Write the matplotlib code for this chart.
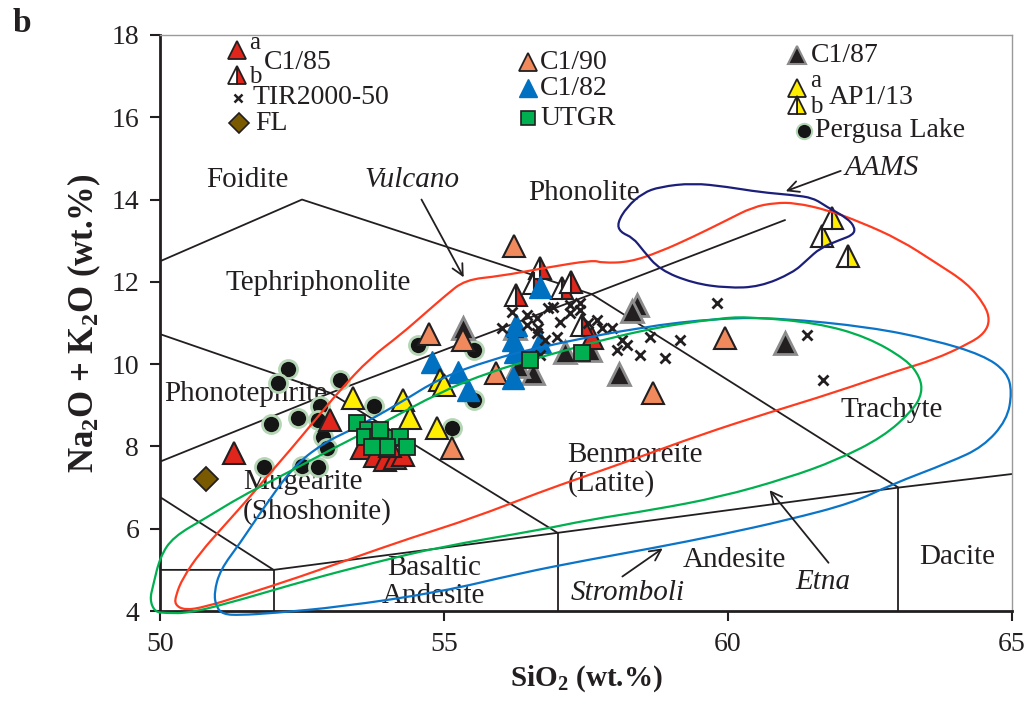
import numpy as np
import matplotlib
matplotlib.use("Agg")
import matplotlib.pyplot as plt
from matplotlib.path import Path
from matplotlib.patches import PathPatch

plt.rcParams['font.family'] = ['Liberation Serif', 'DejaVu Serif']
plt.rcParams['mathtext.fontset'] = 'custom'
plt.rcParams['mathtext.rm'] = 'Liberation Serif'
plt.rcParams['mathtext.it'] = 'Liberation Serif:italic'
plt.rcParams['mathtext.bf'] = 'Liberation Serif:bold'

TXT = '#231F20'

# ---- sample data (SiO2, Na2O+K2O) ----
c185a_x = [51.30, 52.99, 53.56, 53.79, 53.96, 54.14, 54.28, 54.05, 57.61]
c185a_y = [7.84, 8.64, 7.96, 7.77, 7.67, 7.72, 7.79, 8.01, 10.64]
c185b_x = [56.27, 56.69, 56.58, 57.08, 57.24, 57.43]
c185b_y = [11.68, 12.34, 11.97, 11.85, 12.00, 10.95]

c190_x = [56.23, 54.74, 55.33, 55.92, 55.14, 58.68, 59.95]
c190_y = [12.87, 10.73, 10.59, 9.79, 7.96, 9.30, 10.64]

c187_x = [55.33, 56.25, 57.13, 57.57, 58.08, 58.40, 58.31, 56.57, 56.30, 61.00]
c187_y = [10.88, 10.88, 10.30, 10.34, 9.76, 11.44, 11.29, 9.79, 9.96, 10.51]

c182_x = [54.79, 55.25, 55.42, 56.21, 56.21, 56.27, 56.69, 56.69, 56.25]
c182_y = [10.05, 9.81, 9.37, 10.59, 9.66, 10.95, 11.88, 10.54, 10.30]

ap113a_x = [54.93, 55.00, 54.28, 54.40, 54.88, 53.40]
ap113a_y = [9.61, 9.49, 9.13, 8.69, 8.45, 9.18]
ap113b_x = [61.83, 61.65, 62.11]
ap113b_y = [13.55, 13.12, 12.63]

tir_x = [56.02, 56.20, 56.46, 56.64, 56.65, 56.83, 56.92, 57.04, 57.22, 57.39,
         57.22, 57.39, 56.78, 56.99, 56.69, 57.54, 57.69, 57.78, 57.96, 58.13,
         58.22, 58.05, 58.45, 58.63, 58.89, 59.15, 59.81, 61.39, 61.67, 56.64,
         56.46]
tir_y = [10.88, 11.27, 11.19, 11.12, 10.88, 11.37, 11.39, 11.02, 11.24, 11.32,
         11.44, 11.49, 10.59, 10.66, 10.22, 11.00, 11.07, 10.88, 10.88, 10.59,
         10.47, 10.34, 10.22, 10.66, 10.15, 10.59, 11.49, 10.71, 9.61, 10.76,
         10.95]

utgr_x = [53.47, 53.66, 53.61, 53.84, 54.05, 54.23, 54.35, 54.00, 53.73, 53.87, 56.51, 57.43]
utgr_y = [8.57, 8.40, 8.23, 8.23, 8.21, 8.23, 7.99, 7.99, 7.99, 8.40, 10.10, 10.27]

fl_x = [50.81]
fl_y = [7.21]

perg_x = [52.25, 52.08, 53.17, 52.82, 52.43, 52.78, 51.95, 52.87, 52.94, 51.83,
          52.50, 52.78, 53.77, 54.54, 55.53, 55.53, 55.14]
perg_y = [9.88, 9.54, 9.61, 8.98, 8.69, 8.64, 8.55, 8.23, 7.96, 7.50,
          7.52, 7.50, 8.98, 10.47, 10.34, 9.13, 8.45]

# ---- volcanic fields outlines ----
vulcano_x = [50.28, 50.40, 50.70, 51.14, 51.58, 51.88, 52.29, 52.73, 53.17, 53.70,
             54.23, 54.67, 55.02, 55.37, 55.99, 56.78, 57.62, 57.78, 58.27, 58.80,
             59.38, 59.98, 60.44, 60.83, 61.18, 61.74, 62.32, 63.03, 63.64, 64.21,
             64.52, 64.61, 64.52, 64.26, 63.61, 63.03, 61.85, 60.69, 59.51, 58.40,
             57.39, 56.69, 55.51, 54.40, 53.40, 52.46, 51.41, 50.79, 50.44, 50.26]
vulcano_y = [4.39, 4.80, 5.41, 6.09, 6.77, 7.26, 7.91, 8.64, 9.37, 10.15,
             10.71, 11.24, 11.66, 12.05, 12.14, 12.34, 12.53, 12.46, 12.48, 12.73,
             13.09, 13.50, 13.82, 13.92, 13.92, 13.75, 13.46, 13.02, 12.48, 11.97,
             11.44, 11.07, 10.76, 10.51, 10.10, 9.86, 9.30, 8.81, 8.28, 7.72,
             7.23, 6.89, 6.26, 5.77, 5.29, 4.83, 4.36, 4.10, 4.02, 4.15]

stromboli_x = [50.99, 50.95, 51.06, 51.41, 51.80, 52.34, 52.87, 53.47, 54.23, 54.93,
               55.81, 56.69, 58.45, 59.86, 60.92, 62.50, 63.61, 64.49, 64.91, 65.00,
               64.91, 64.49, 63.91, 62.85, 62.20, 61.04, 59.86, 58.68, 57.52, 56.34,
               54.93, 53.17, 51.99, 51.41, 51.11]
stromboli_y = [4.10, 4.44, 5.00, 5.65, 6.46, 7.50, 8.08, 8.47, 9.06, 9.66,
               10.10, 10.42, 10.90, 11.12, 11.12, 10.90, 10.59, 10.22, 9.81, 9.32,
               8.64, 7.99, 7.62, 7.06, 6.63, 6.21, 5.85, 5.53, 5.24, 4.92,
               4.46, 4.10, 3.95, 3.90, 3.92]

etna_x = [49.82, 49.88, 50.00, 50.23, 50.83, 51.41, 51.99, 52.46, 52.99, 53.93,
          54.93, 55.81, 56.69, 58.45, 59.86, 60.39, 61.57, 62.45, 63.15, 63.38,
          63.42, 63.26, 62.73, 61.92, 61.04, 59.86, 58.68, 57.52, 56.69, 54.93,
          53.75, 52.59, 51.41, 50.53, 50.09, 49.91]
etna_y = [4.27, 4.63, 5.31, 5.80, 6.28, 6.77, 7.18, 7.52, 7.91, 8.57,
          9.32, 9.81, 10.17, 10.83, 11.12, 11.15, 11.00, 10.66, 10.10, 9.69,
          9.30, 8.89, 8.23, 7.67, 7.23, 6.77, 6.46, 6.21, 5.97, 5.56,
          5.17, 4.75, 4.27, 3.95, 3.95, 3.98]

aams_x = [58.05, 58.22, 58.50, 58.80, 59.38, 59.98, 60.56, 61.14, 61.50, 61.74,
          62.10, 62.24, 62.20, 61.97, 61.62, 61.39, 61.14, 60.56, 59.98, 59.38,
          58.80, 58.50, 58.33, 58.10]
aams_y = [13.43, 13.82, 14.16, 14.31, 14.40, 14.31, 14.18, 14.11, 14.04, 13.82,
          13.55, 13.31, 13.14, 13.02, 12.82, 12.53, 12.22, 11.88, 11.85, 11.97,
          12.29, 12.77, 13.07, 13.21]

# ---- TAS boundaries (Le Bas et al.) ----
tas_lines = [
    ([50, 52.5, 57.6, 63], [12.5, 14, 11.7, 7]),
    ([50, 53, 57.6, 61], [7.63, 9.3, 11.7, 13.5]),
    ([50, 53, 57], [10.73, 9.3, 5.9]),
    ([50, 52], [6.77, 5]),
    ([50, 52, 57, 63, 65], [5, 5, 5.9, 7, 7.33]),
    ([52, 52], [4, 5]),
    ([57, 57], [4, 5.9]),
    ([63, 63], [4, 7]),
]

fig = plt.figure(figsize=(10.29, 7.05), dpi=100)
ax = fig.add_axes([0.1555, 0.1333, 0.828, 0.8171])

for xs, ys in tas_lines:
    ax.plot(xs, ys, color=TXT, lw=1.3, zorder=1)


def smooth_outline(xs, ys, color):
    pts = np.column_stack([xs, ys])
    mids = (pts + np.roll(pts, -1, axis=0)) / 2
    verts = [mids[-1]]
    codes = [Path.MOVETO]
    for i in range(len(pts)):
        verts += [pts[i], mids[i]]
        codes += [Path.CURVE3, Path.CURVE3]
    patch = PathPatch(Path(verts, codes), facecolor='none', edgecolor=color,
                      lw=1.6, zorder=6, clip_on=False)
    ax.add_patch(patch)


smooth_outline(vulcano_x, vulcano_y, '#FF3B1F')
smooth_outline(stromboli_x, stromboli_y, '#0A74C8')
smooth_outline(etna_x, etna_y, '#00B04F')
smooth_outline(aams_x, aams_y, '#1C1F7A')

RED = '#E0261C'
ORANGE = '#F08A5C'
BLUE = '#0070C0'
YEL = '#FFEE00'
GREEN = '#00B050'

ax.plot(perg_x, perg_y, 'o', ms=13, mfc='#151515', mec='#B5D6B5', mew=2, ls='none', zorder=3)
ax.plot(c187_x, c187_y, '^', ms=16, mfc='#231F20', mec='#8C8C8C', mew=2, ls='none', zorder=3)
ax.plot(c190_x, c190_y, '^', ms=16, mfc=ORANGE, mec=TXT, mew=1.5, ls='none', zorder=3)
ax.plot(c185a_x, c185a_y, '^', ms=16, mfc=RED, mec=TXT, mew=1.5, ls='none', zorder=3)
ax.plot(c185b_x, c185b_y, '^', ms=16, mfc=RED, mfcalt='white', fillstyle='right',
        mec=TXT, mew=1.5, ls='none', zorder=3)
ax.plot(c182_x, c182_y, '^', ms=16, mfc=BLUE, mec=BLUE, mew=1, ls='none', zorder=4)
ax.plot(ap113a_x, ap113a_y, '^', ms=16, mfc=YEL, mec=TXT, mew=1.5, ls='none', zorder=4)
ax.plot(ap113b_x, ap113b_y, '^', ms=16, mfc=YEL, mfcalt='white', fillstyle='right',
        mec=TXT, mew=1.5, ls='none', zorder=4)
ax.plot(tir_x, tir_y, 'x', ms=7, mec=TXT, mew=2, ls='none', zorder=5)
ax.plot(utgr_x, utgr_y, 's', ms=12, mfc=GREEN, mec=TXT, mew=1.3, ls='none', zorder=7)
ax.plot(fl_x, fl_y, 'D', ms=12, mfc='#7A5A00', mec=TXT, mew=1.3, ls='none', zorder=5)

# ---- field names ----
fs = 21
labels = [
    (51.53, 14.48, 'Foidite', 'center'), (57.46, 14.16, 'Phonolite', 'center'),
    (52.78, 11.97, 'Tephriphonolite', 'center'), (51.50, 9.27, 'Phonotephrite', 'center'),
    (51.46, 6.77, 'Mugearite\n(Shoshonite)', 'left'), (57.17, 7.44, 'Benmoreite\n(Latite)', 'left'),
    (62.89, 8.89, 'Trachyte', 'center'), (54.82, 4.70, 'Basaltic\nAndesite', 'center'),
    (60.12, 5.24, 'Andesite', 'center'), (64.03, 5.31, 'Dacite', 'center'),
]
for x, y, s, ha in labels:
    ax.text(x, y, s, fontsize=fs, color=TXT, ha=ha, va='center',
            linespacing=1.12, zorder=2)

arrows = [
    ('Vulcano', (54.44, 14.48), (54.58, 14.06), (55.37, 12.05)),
    ('AAMS', (62.71, 14.77), (62.03, 14.72), (60.97, 14.18)),
    ('Etna', (61.67, 4.71), (61.80, 5.12), (60.70, 6.99)),
    ('Stromboli', (58.23, 4.44), (58.10, 4.80), (58.89, 5.56)),
]
for name, tpos, start, end in arrows:
    ax.text(tpos[0], tpos[1], name, fontsize=fs, style='italic', color=TXT,
            ha='center', va='center', zorder=2)
    ax.annotate('', xy=end, xytext=start,
                arrowprops=dict(arrowstyle='->', color=TXT, lw=1.3,
                                mutation_scale=20), zorder=8)

# ---- legend ----
lfs = 20
sfs = 18
lms = 13
ax.plot([51.36], [17.64], '^', ms=lms, mfc=RED, mec=TXT, mew=1.3, clip_on=False)
ax.plot([51.36], [17.03], '^', ms=lms, mfc=RED, mfcalt='white', fillstyle='right',
        mec=TXT, mew=1.3, clip_on=False)
ax.text(51.57, 17.80, 'a', fontsize=sfs, color=TXT, va='center')
ax.text(51.57, 16.98, 'b', fontsize=sfs, color=TXT, va='center')
ax.text(51.82, 17.32, 'C1/85', fontsize=lfs, color=TXT, va='center')
ax.plot([51.37], [16.47], 'x', ms=6, mec=TXT, mew=1.8)
ax.text(51.62, 16.47, 'TIR2000-50', fontsize=lfs, color=TXT, va='center')
ax.plot([51.39], [15.86], 'D', ms=10, mfc='#7A5A00', mec=TXT, mew=1.2)
ax.text(51.67, 15.86, 'FL', fontsize=lfs, color=TXT, va='center')

ax.plot([56.48], [17.34], '^', ms=lms, mfc=ORANGE, mec=TXT, mew=1.3)
ax.text(56.69, 17.34, 'C1/90', fontsize=lfs, color=TXT, va='center')
ax.plot([56.48], [16.71], '^', ms=lms, mfc=BLUE, mec=BLUE, mew=1)
ax.text(56.69, 16.71, 'C1/82', fontsize=lfs, color=TXT, va='center')
ax.plot([56.48], [15.98], 's', ms=10, mfc=GREEN, mec=TXT, mew=1.2)
ax.text(56.69, 15.98, 'UTGR', fontsize=lfs, color=TXT, va='center')

ax.plot([61.22], [17.51], '^', ms=lms, mfc='#231F20', mec='#8C8C8C', mew=1.5)
ax.text(61.45, 17.51, 'C1/87', fontsize=lfs, color=TXT, va='center')
ax.plot([61.22], [16.71], '^', ms=lms, mfc=YEL, mec=TXT, mew=1.3)
ax.plot([61.22], [16.30], '^', ms=lms, mfc=YEL, mfcalt='white', fillstyle='right',
        mec=TXT, mew=1.3)
ax.text(61.45, 16.88, 'a', fontsize=sfs, color=TXT, va='center')
ax.text(61.45, 16.25, 'b', fontsize=sfs, color=TXT, va='center')
ax.text(61.78, 16.49, 'AP1/13', fontsize=lfs, color=TXT, va='center')
ax.plot([61.33], [15.67], 'o', ms=11, mfc='#151515', mec='#B5D6B5', mew=1.5)
ax.text(61.53, 15.67, 'Pergusa Lake', fontsize=lfs, color=TXT, va='center')

# ---- axes ----
ax.set_xlim(50, 65)
ax.set_ylim(4, 18)
ax.set_xticks([50, 55, 60, 65])
ax.set_yticks(range(4, 19, 2))
ax.tick_params(direction='out', length=7, width=1.5, labelsize=20, colors=TXT, pad=8)
for side in ['left', 'bottom']:
    ax.spines[side].set_linewidth(2)
    ax.spines[side].set_color(TXT)
for side in ['top', 'right']:
    ax.spines[side].set_linewidth(1)
    ax.spines[side].set_color('#9A9A9A')

ax.set_xlabel(r'SiO$_\mathbf{2}$ (wt.%)', fontsize=21, fontweight='bold', color=TXT, labelpad=5)
ax.set_ylabel(r'Na$_\mathbf{2}$O + K$_\mathbf{2}$O (wt.%)', fontsize=25, fontweight='bold',
              color=TXT, labelpad=6)
fig.text(0.012, 0.955, 'b', fontsize=24, fontweight='bold', color=TXT)

fig.savefig('out.png', dpi=100)
